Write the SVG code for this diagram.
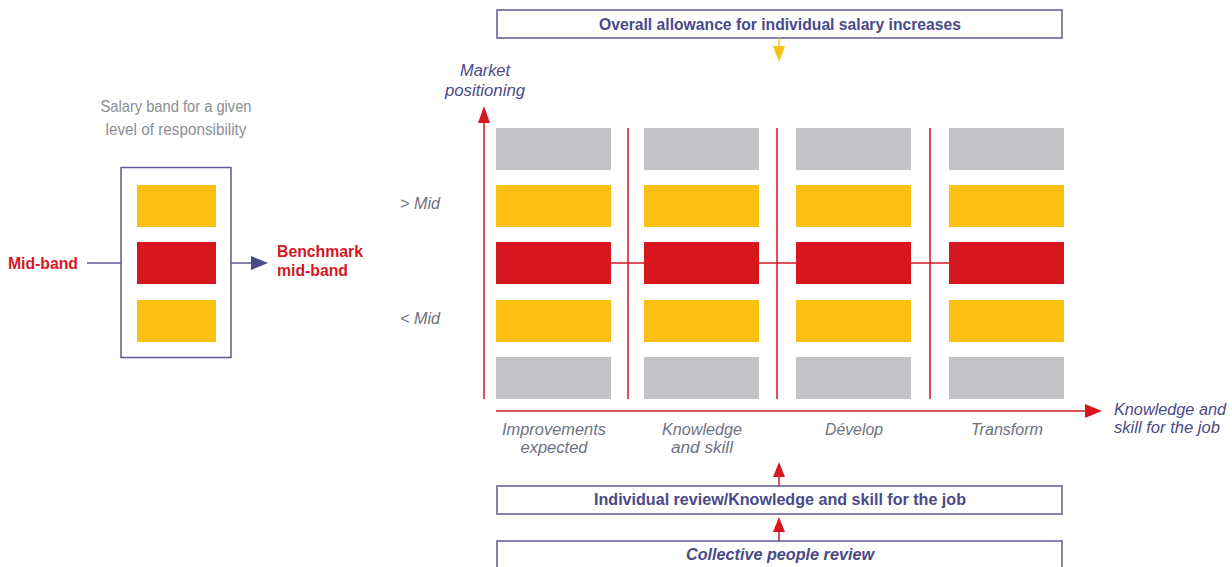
<svg xmlns="http://www.w3.org/2000/svg" width="1232" height="567" viewBox="0 0 1232 567">
<defs>
<style>
.t{font-family:"Liberation Sans",Arial,sans-serif}
.box{fill:#fff;stroke:#5b5a97;stroke-width:1.5}
.y{fill:#fcc012}.r{fill:#d6171f}.g{fill:#c2c3c6}
.bold{font-weight:bold;fill:#4a4a88;font-size:16.5px}
.it{font-style:italic;font-size:16px}
.pur{fill:#4a4a88}.gry{fill:#6e7280}
.lg{fill:#8b8e94;font-size:16px;font-weight:300}
.red{fill:#d6171f;font-weight:bold;font-size:17px}
.rl{stroke:#d6171f;stroke-width:1.5;fill:none}
</style>
</defs>
<g id="left-panel">
<text class="t lg" x="176" y="112" text-anchor="middle" textLength="151" lengthAdjust="spacingAndGlyphs">Salary band for a given</text>
<text class="t lg" x="176" y="135" text-anchor="middle" textLength="141" lengthAdjust="spacingAndGlyphs">level of responsibility</text>
<rect class="box" x="121" y="167.5" width="110" height="190"/>
<rect class="y" x="137" y="185" width="79" height="42"/>
<rect class="r" x="137" y="242" width="79" height="42"/>
<rect class="y" x="137" y="300" width="79" height="42"/>
<text class="t red" x="8" y="269" textLength="70" lengthAdjust="spacingAndGlyphs">Mid-band</text>
<line x1="87" y1="263" x2="121" y2="263" stroke="#5b5a97" stroke-width="1.5"/>
<line x1="231" y1="263" x2="252" y2="263" stroke="#5b5a97" stroke-width="1.5"/>
<path d="M251,256L268,263L251,270z" fill="#4a4a88"/>
<text class="t red" x="277" y="257" textLength="86" lengthAdjust="spacingAndGlyphs">Benchmark</text>
<text class="t red" x="277" y="276" textLength="71" lengthAdjust="spacingAndGlyphs">mid-band</text>
</g>
<g id="top-box">
<rect class="box" x="497" y="10" width="565" height="28"/>
<text class="t bold" x="780" y="30" text-anchor="middle" textLength="362" lengthAdjust="spacingAndGlyphs">Overall allowance for individual salary increases</text>
</g>
<g id="axis-labels">
<text class="t it pur" x="485" y="76" text-anchor="middle" textLength="50" lengthAdjust="spacingAndGlyphs">Market</text>
<text class="t it pur" x="485" y="96" text-anchor="middle" textLength="80" lengthAdjust="spacingAndGlyphs">positioning</text>
<text class="t it gry" x="400" y="209" textLength="40" lengthAdjust="spacingAndGlyphs">&gt; Mid</text>
<text class="t it gry" x="400" y="324" textLength="40" lengthAdjust="spacingAndGlyphs">&lt; Mid</text>
<text class="t it pur" x="1114" y="415" textLength="112" lengthAdjust="spacingAndGlyphs">Knowledge and</text>
<text class="t it pur" x="1114" y="433" textLength="106" lengthAdjust="spacingAndGlyphs">skill for the job</text>
<text class="t it gry" x="554" y="435" text-anchor="middle" textLength="104" lengthAdjust="spacingAndGlyphs">Improvements</text>
<text class="t it gry" x="554" y="453" text-anchor="middle" textLength="67" lengthAdjust="spacingAndGlyphs">expected</text>
<text class="t it gry" x="702" y="435" text-anchor="middle" textLength="80" lengthAdjust="spacingAndGlyphs">Knowledge</text>
<text class="t it gry" x="702" y="453" text-anchor="middle" textLength="62" lengthAdjust="spacingAndGlyphs">and skill</text>
<text class="t it gry" x="854" y="435" text-anchor="middle" textLength="58" lengthAdjust="spacingAndGlyphs">Dévelop</text>
<text class="t it gry" x="1007" y="435" text-anchor="middle" textLength="72" lengthAdjust="spacingAndGlyphs">Transform</text>
</g>
<g id="grid">
<g id="col1"><rect class="g" x="496" y="128" width="115" height="42"/><rect class="y" x="496" y="185" width="115" height="42"/><rect class="r" x="496" y="242" width="115" height="42"/><rect class="y" x="496" y="300" width="115" height="42"/><rect class="g" x="496" y="357" width="115" height="42"/></g>
<g id="col2"><rect class="g" x="644" y="128" width="115" height="42"/><rect class="y" x="644" y="185" width="115" height="42"/><rect class="r" x="644" y="242" width="115" height="42"/><rect class="y" x="644" y="300" width="115" height="42"/><rect class="g" x="644" y="357" width="115" height="42"/></g>
<g id="col3"><rect class="g" x="796" y="128" width="115" height="42"/><rect class="y" x="796" y="185" width="115" height="42"/><rect class="r" x="796" y="242" width="115" height="42"/><rect class="y" x="796" y="300" width="115" height="42"/><rect class="g" x="796" y="357" width="115" height="42"/></g>
<g id="col4"><rect class="g" x="949" y="128" width="115" height="42"/><rect class="y" x="949" y="185" width="115" height="42"/><rect class="r" x="949" y="242" width="115" height="42"/><rect class="y" x="949" y="300" width="115" height="42"/><rect class="g" x="949" y="357" width="115" height="42"/></g>
</g>
<g id="bottom-boxes">
<rect class="box" x="497" y="486" width="565" height="28"/>
<text class="t bold" x="780" y="505" text-anchor="middle" textLength="372" lengthAdjust="spacingAndGlyphs">Individual review/Knowledge and skill for the job</text>
<rect class="box" x="497" y="541" width="565" height="40"/>
<text class="t bold" x="780" y="560" text-anchor="middle" font-style="italic" textLength="188" lengthAdjust="spacingAndGlyphs">Collective people review</text>
</g>
<g id="connectors">
<line class="rl" x1="484" y1="399" x2="484" y2="120"/>
<path d="M478,123L484,106L490,123z" fill="#d6171f"/>
<line class="rl" x1="496" y1="411" x2="1088" y2="411"/>
<path d="M1085,404L1102,411L1085,418z" fill="#d6171f"/>
<line class="rl" x1="628" y1="128" x2="628" y2="399" stroke-width="1.2"/>
<line class="rl" x1="777" y1="128" x2="777" y2="399" stroke-width="1.2"/>
<line class="rl" x1="930" y1="128" x2="930" y2="399" stroke-width="1.2"/>
<line class="rl" x1="611" y1="263" x2="644" y2="263" stroke-width="1.2"/>
<line class="rl" x1="759" y1="263" x2="796" y2="263" stroke-width="1.2"/>
<line class="rl" x1="911" y1="263" x2="949" y2="263" stroke-width="1.2"/>
<line x1="779" y1="38" x2="779" y2="50" stroke="#fcc012" stroke-width="1.5"/>
<path d="M773,46L779,62L785,46z" fill="#fcc012"/>
<line class="rl" x1="779" y1="486" x2="779" y2="476"/>
<path d="M773,477L779,462L785,477z" fill="#d6171f"/>
<line class="rl" x1="779" y1="541" x2="779" y2="531"/>
<path d="M773,532L779,517L785,532z" fill="#d6171f"/>
</g>
</svg>
